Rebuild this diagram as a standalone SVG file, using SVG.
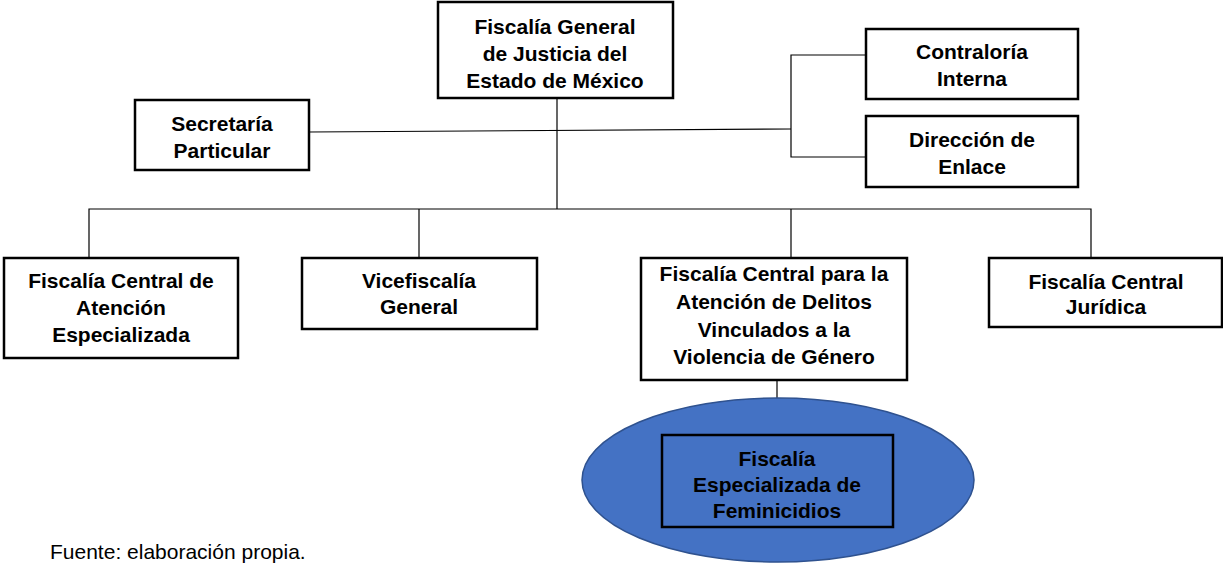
<svg xmlns="http://www.w3.org/2000/svg" width="1223" height="565" viewBox="0 0 1223 565">
<style>
.box{fill:#fff;stroke:#000;stroke-width:2.5}
.t{font-family:"Liberation Sans",Arial,sans-serif;font-weight:bold;font-size:21px;fill:#000;text-anchor:middle}
.ln{stroke:#000;stroke-width:1.2;fill:none}
</style>
<rect width="1223" height="565" fill="#fff"/>
<g id="connectors">
<path class="ln" d="M557 98V209"/>
<path class="ln" d="M309 132L791 129"/>
<path class="ln" d="M866 55H791V157H866"/>
<path class="ln" d="M89 258V209H1091V258"/>
<path class="ln" d="M419 209V258"/>
<path class="ln" d="M791 209V258"/>
<path class="ln" d="M777 380V398"/>
</g>
<g id="n_fiscalia_general">
<rect class="box" x="438" y="2" width="235" height="96"/>
<text class="t"><tspan x="555" y="34">Fiscalía General</tspan><tspan x="555" y="61">de Justicia del</tspan><tspan x="555" y="88">Estado de México</tspan></text>
</g>
<g id="n_secretaria">
<rect class="box" x="135" y="100" width="174" height="70"/>
<text class="t"><tspan x="222" y="131">Secretaría</tspan><tspan x="222" y="158">Particular</tspan></text>
</g>
<g id="n_contraloria">
<rect class="box" x="866" y="29" width="212" height="70"/>
<text class="t"><tspan x="972" y="59">Contraloría</tspan><tspan x="972" y="86">Interna</tspan></text>
</g>
<g id="n_direccion">
<rect class="box" x="866" y="116" width="212" height="71"/>
<text class="t"><tspan x="972" y="147">Dirección de</tspan><tspan x="972" y="174">Enlace</tspan></text>
</g>
<g id="n_fc_atencion">
<rect class="box" x="4" y="258" width="234" height="100"/>
<text class="t"><tspan x="121" y="288">Fiscalía Central de</tspan><tspan x="121" y="315">Atención</tspan><tspan x="121" y="342">Especializada</tspan></text>
</g>
<g id="n_vicefiscalia">
<rect class="box" x="302" y="258" width="235" height="71"/>
<text class="t"><tspan x="419" y="288">Vicefiscalía</tspan><tspan x="419" y="314">General</tspan></text>
</g>
<g id="n_fc_genero">
<rect class="box" x="641" y="258" width="266" height="122"/>
<text class="t"><tspan x="774" y="281">Fiscalía Central para la</tspan><tspan x="774" y="309">Atención de Delitos</tspan><tspan x="774" y="337">Vinculados a la</tspan><tspan x="774" y="364">Violencia de Género</tspan></text>
</g>
<g id="n_fc_juridica">
<rect class="box" x="989" y="258" width="233" height="69"/>
<text class="t"><tspan x="1106" y="289">Fiscalía Central</tspan><tspan x="1106" y="314">Jurídica</tspan></text>
</g>
<g id="n_feminicidios">
<ellipse cx="778" cy="480" rx="196" ry="82" fill="#4472C4" stroke="#2F528F" stroke-width="1.5"/>
<rect x="662" y="435" width="231" height="92" fill="#4472C4" stroke="#000" stroke-width="2.5"/>
<text class="t"><tspan x="777" y="466">Fiscalía</tspan><tspan x="777" y="492">Especializada de</tspan><tspan x="777" y="518">Feminicidios</tspan></text>
</g>
<text x="50" y="559" style="font-family:'Liberation Sans',Arial,sans-serif;font-size:21px;fill:#000">Fuente: elaboración propia.</text>
</svg>
